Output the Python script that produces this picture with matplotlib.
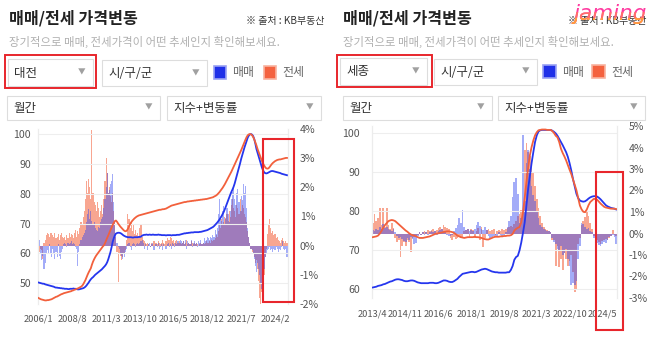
import matplotlib.pyplot as plt
import pandas as pd
from matplotlib.patches import Rectangle
from matplotlib.transforms import Bbox, TransformedBbox

plt.rcParams["font.family"] = ["Noto Sans CJK KR", "DejaVu Sans"]

W, H = 650, 346  # canvas size in pixels

# ---- 대전: monthly index (left axis) and monthly change % (right axis) ----
DJ_START = "2006-01"
DJ_TICKS = ["2006/1", "2008/8", "2011/3", "2013/10", "2016/5", "2018/12", "2021/7", "2024/2"]

dj_sale_idx = [
    50.2, 50.1, 50.0, 49.9, 49.8, 49.8, 49.6, 49.5, 49.4, 49.3, 49.2, 49.1,
    49.0, 48.9, 48.8, 48.6, 48.5, 48.5, 48.4, 48.4, 48.3, 48.3, 48.2, 48.2,
    48.1, 48.1, 48.1, 48.0, 48.0, 48.1, 48.1, 48.1, 48.2, 48.1, 48.1, 48.0,
    47.9, 47.9, 48.0, 48.1, 48.2, 48.3, 48.5, 48.8, 49.2, 49.7, 50.2, 50.8,
    51.3, 51.7, 52.0, 52.4, 52.8, 53.1, 53.4, 53.7, 54.0, 54.3, 54.6, 55.0,
    55.4, 55.8, 56.3, 57.0, 58.0, 59.2, 60.4, 62.0, 63.8, 65.0, 66.0, 66.6,
    66.8, 66.9, 66.9, 66.8, 66.6, 66.3, 66.0, 65.8, 65.6, 65.5, 65.4, 65.4,
    65.4, 65.4, 65.3, 65.3, 65.4, 65.4, 65.4, 65.4, 65.5, 65.5, 65.6, 65.9,
    66.1, 66.2, 66.2, 66.3, 66.2, 66.2, 66.3, 66.2, 66.2, 66.3, 66.2, 66.2,
    66.2, 66.2, 66.3, 66.2, 66.2, 66.1, 66.1, 66.1, 66.1, 66.0, 66.1, 66.1,
    66.1, 66.1, 66.0, 66.1, 66.1, 66.1, 66.1, 66.2, 66.2, 66.2, 66.3, 66.4,
    66.5, 66.6, 66.7, 66.7, 66.8, 66.8, 66.9, 66.9, 67.0, 67.0, 67.0, 67.1,
    67.1, 67.1, 67.1, 67.1, 67.2, 67.2, 67.3, 67.4, 67.5, 67.6, 67.7, 67.8,
    68.0, 68.2, 68.4, 68.6, 68.8, 69.1, 69.5, 69.9, 70.3, 70.8, 71.3, 71.9,
    72.5, 73.2, 73.9, 74.8, 75.8, 76.8, 77.8, 78.8, 79.7, 80.6, 81.4, 82.3,
    83.4, 84.8, 86.2, 87.5, 88.8, 90.2, 91.7, 93.0, 94.3, 95.5, 96.6, 97.7,
    98.8, 99.5, 99.9, 100.0, 99.8, 99.3, 98.3, 96.8, 95.0, 93.8, 92.5, 91.3,
    90.0, 88.8, 87.9, 87.2, 86.9, 86.8, 86.9, 87.1, 87.3, 87.5, 87.6, 87.6,
    87.5, 87.4, 87.3, 87.2, 87.1, 87.0, 86.9, 86.7, 86.6, 86.5, 86.4, 86.3,
    86.2,
]
dj_jeonse_idx = [
    45.0, 44.8, 44.6, 44.5, 44.4, 44.3, 44.2, 44.2, 44.3, 44.3, 44.4, 44.5,
    44.6, 44.8, 45.0, 45.2, 45.4, 45.5, 45.7, 45.9, 46.1, 46.3, 46.4, 46.6,
    46.7, 46.8, 46.9, 47.0, 47.1, 47.2, 47.3, 47.5, 47.6, 47.8, 47.9, 48.1,
    48.2, 48.4, 48.6, 48.8, 49.1, 49.6, 50.3, 51.0, 51.9, 52.8, 53.6, 54.3,
    55.0, 56.2, 57.2, 58.0, 58.7, 59.3, 59.8, 60.3, 60.8, 61.3, 61.8, 62.3,
    62.7, 63.4, 64.3, 65.2, 66.0, 66.9, 67.8, 68.6, 69.5, 70.2, 70.8, 71.0,
    70.6, 70.0, 69.5, 69.0, 68.6, 68.2, 67.8, 67.5, 67.4, 67.6, 68.2, 69.0,
    69.8, 70.4, 70.9, 71.3, 71.7, 72.0, 72.3, 72.5, 72.7, 72.8, 72.9, 73.0,
    73.1, 73.2, 73.3, 73.4, 73.5, 73.6, 73.7, 73.8, 73.9, 74.0, 74.1, 74.2,
    74.3, 74.4, 74.5, 74.6, 74.6, 74.7, 74.8, 74.8, 74.9, 75.0, 75.2, 75.4,
    75.6, 75.8, 76.0, 76.1, 76.2, 76.3, 76.4, 76.5, 76.6, 76.7, 76.8, 76.9,
    77.0, 77.1, 77.2, 77.2, 77.3, 77.4, 77.4, 77.5, 77.5, 77.6, 77.6, 77.7,
    77.7, 77.8, 77.8, 77.9, 77.9, 78.0, 78.0, 78.1, 78.1, 78.2, 78.2, 78.3,
    78.4, 78.5, 78.6, 78.7, 78.8, 79.0, 79.2, 79.4, 79.7, 80.1, 80.5, 81.0,
    81.5, 82.0, 82.6, 83.2, 83.9, 84.6, 85.3, 86.0, 86.7, 87.4, 88.2, 89.0,
    89.8, 90.6, 91.4, 92.2, 93.0, 93.8, 94.6, 95.5, 96.4, 97.3, 98.2, 99.0,
    99.6, 99.9, 100.0, 99.9, 99.6, 99.0, 98.2, 97.2, 96.2, 95.0, 94.0, 93.0,
    92.0, 91.0, 90.2, 89.5, 88.9, 88.5, 88.4, 88.5, 88.9, 89.4, 89.9, 90.3,
    90.6, 90.9, 91.1, 91.3, 91.4, 91.5, 91.5, 91.6, 91.7, 91.8, 91.9, 92.0,
    92.0,
]
dj_sale_chg = [
    0.45, 0.20, -0.30, -0.50, -0.35, -0.80, -0.60, -0.25, -0.15, -0.30, 0.05, -0.25,
    -0.40, -0.10, -0.30, -0.45, -0.20, -0.40, 0.05, -0.35, -0.45, -0.20, -0.10, 0.05,
    0.10, 0.05, -0.05, 0.10, 0.05, 0.10, 0.15, 0.05, 0.10, 0.05, -0.05, -0.10,
    -0.70, -0.20, 0.05, 0.20, 0.30, 0.35, 0.45, 0.55, 0.80, 1.10, 1.25, 0.90,
    1.20, 0.85, 0.75, 0.80, 0.60, 0.55, 0.50, 0.65, 0.60, 0.80, 0.90, 1.00,
    1.30, 1.60, 2.00, 2.50, 1.80, 1.90, 2.10, 2.20, 2.45, 1.50, 0.80, 0.45,
    0.10, -0.05, -0.10, -0.25, -0.35, -0.45, -0.30, -0.40, -0.20, -0.10, 0.05, 0.10,
    -0.05, -0.15, 0.05, 0.10, 0.05, -0.05, 0.05, 0.10, 0.05, 0.10, 0.15, 0.20,
    0.10, -0.10, 0.05, 0.00, -0.15, 0.05, 0.10, -0.05, 0.05, 0.10, -0.15, 0.05,
    0.05, -0.05, 0.10, -0.10, -0.05, 0.05, -0.15, 0.05, 0.00, -0.10, 0.05, 0.10,
    -0.05, 0.05, -0.10, 0.10, 0.05, -0.05, 0.10, 0.05, 0.15, 0.10, 0.20, 0.15,
    0.10, 0.15, 0.05, 0.20, -0.10, 0.15, 0.10, 0.05, 0.20, -0.05, 0.10, 0.15,
    0.05, 0.10, -0.05, 0.15, 0.10, 0.20, 0.05, 0.10, 0.25, 0.15, 0.20, 0.30,
    0.25, 0.20, 0.30, 0.25, 0.35, 0.30, 0.55, 0.40, 0.60, 1.10, 1.60, 0.90,
    0.85, 1.20, 1.35, 0.70, 0.95, 1.30, 1.10, 0.80, 1.20, 1.60, 1.85, 2.05,
    1.60, 1.40, 1.80, 1.95, 1.50, 1.20, 1.70, 1.55, 2.10, 1.80, 2.05, 1.30,
    0.60, 0.30, 0.10, -0.10, -0.15, -0.30, -0.45, -0.70, -0.90, -0.60, -0.80, -1.00,
    -1.30, -1.50, -1.60, -0.80, -0.40, -0.30, -0.15, -0.10, -0.05, -0.15, -0.10, -0.20,
    -0.10, -0.15, -0.05, -0.10, -0.20, -0.10, -0.15, -0.05, 0.15, -0.10, -0.15, -0.10,
    -0.40,
]
dj_jeonse_chg = [
    -0.15, -0.20, -0.10, -0.15, -0.45, 0.10, 0.20, 0.35, 0.45, 0.40, 0.30, 0.45,
    0.45, 0.35, 0.30, 0.45, 0.25, 0.30, 0.40, 0.20, 0.35, 0.45, 0.30, 0.25,
    0.30, 0.20, 0.35, 0.25, 0.45, 0.30, 0.40, 0.35, 0.25, 0.45, 0.55, 0.30,
    0.50, 0.40, 0.60, 0.80, 0.70, 1.00, 1.20, 1.60, 2.20, 1.80, 2.30, 2.00,
    1.60, 3.95, 1.80, 1.50, 1.40, 1.20, 1.50, 1.30, 1.00, 1.20, 1.40, 1.10,
    1.60, 2.20, 3.00, 2.50, 1.80, 2.00, 1.70, 1.50, 1.80, 1.20, 0.80, 0.30,
    -0.20, -1.25, -0.30, -0.35, -0.50, -0.40, -0.25, -0.30, -0.15, 0.20, 1.10, 0.90,
    0.60, 0.80, 0.50, 0.70, 0.40, 0.55, 0.35, 0.45, 0.30, 0.60, 0.70, 0.30,
    0.20, 0.15, 0.10, 0.05, 0.10, 0.05, 0.00, -0.05, 0.10, 0.05, 0.15, 0.10,
    0.10, 0.05, 0.15, 0.10, 0.05, 0.10, 0.20, 0.10, 0.05, 0.15, 0.25, 0.20,
    0.20, 0.30, 0.25, 0.15, 0.20, 0.10, 0.15, 0.20, 0.10, 0.15, 0.10, 0.05,
    0.10, 0.15, 0.05, 0.10, 0.20, 0.05, 0.10, 0.05, 0.15, 0.10, 0.05, 0.10,
    0.05, 0.10, 0.05, 0.00, 0.05, 0.10, 0.05, 0.10, 0.05, 0.10, 0.15, 0.10,
    0.10, 0.15, 0.10, 0.20, 0.15, 0.20, 0.25, 0.35, 0.30, 0.50, 0.70, 0.60,
    0.90, 0.70, 0.80, 1.00, 0.90, 1.10, 0.85, 1.20, 1.00, 1.40, 1.60, 1.30,
    1.20, 1.00, 1.40, 1.30, 1.10, 1.60, 1.20, 1.40, 1.30, 1.10, 1.00, 0.80,
    0.50, 0.30, 0.10, -0.10, -0.20, -0.30, -0.40, -0.60, -0.50, -0.80, -1.20, -1.80,
    -2.00, -1.60, -1.95, -1.00, -0.40, -0.10, 0.40, 0.70, 0.90, 0.60, 0.45, 0.50,
    0.35, 0.40, 0.25, 0.30, 0.20, 0.15, 0.10, 0.20, 0.25, 0.15, 0.10, 0.15,
    0.10,
]

# ---- 세종 (2013/4 ~ 2025/1) ----
SJ_START = "2013-04"
SJ_TICKS = ["2013/4", "2014/11", "2016/6", "2018/1", "2019/8", "2021/3", "2022/10", "2024/5"]

sj_sale_idx = [
    60.5, 60.6, 60.7, 60.9, 61.0, 61.1, 61.3, 61.4, 61.6,
    61.8, 62.0, 62.1, 62.3, 62.5, 62.6, 62.6, 62.5, 62.4, 62.2, 62.1, 62.1,
    62.2, 62.3, 62.3, 62.2, 62.0, 61.8, 61.7, 61.6, 61.6, 61.6, 61.6, 61.6,
    61.7, 61.7, 61.7, 61.6, 61.6, 61.7, 61.9, 62.1, 62.3, 62.3, 62.2, 62.0,
    61.9, 61.9, 62.1, 62.4, 62.7, 63.2, 63.6, 64.0, 64.1, 64.2, 64.3, 64.4,
    64.5, 64.5, 64.4, 64.5, 64.7, 64.9, 65.1, 65.2, 65.3, 65.2, 65.0, 64.8,
    64.6, 64.5, 64.4, 64.4, 64.3, 64.3, 64.3, 64.3, 64.3, 64.4, 64.4, 65.0,
    66.0, 67.6, 68.3, 68.6, 70.0, 72.0, 74.5, 77.2, 81.5, 85.8, 89.2, 92.4,
    95.2, 97.8, 99.5, 100.5, 100.8, 100.9, 100.9, 100.9, 100.9, 100.9, 100.9, 100.7,
    100.4, 100.0, 99.4, 98.6, 97.8, 97.0, 96.1, 95.2, 94.0, 92.4, 90.5, 88.3,
    86.4, 84.5, 83.4, 82.8, 82.6, 82.5, 82.6, 82.9, 83.3, 83.6, 83.8, 83.9,
    83.9, 83.8, 83.5, 83.1, 82.6, 82.1, 81.6, 81.3, 81.1, 80.9, 80.8, 80.7,
    80.5,
]
sj_jeonse_idx = [
    73.4, 73.5, 73.6, 73.8, 74.3, 75.0, 75.8, 76.5, 77.0,
    77.5, 77.7, 77.8, 77.7, 77.5, 77.1, 76.7, 76.3, 75.9, 75.5, 75.1, 74.8,
    74.4, 74.1, 73.9, 73.8, 73.6, 73.4, 73.2, 73.2, 73.2, 73.3, 73.4, 73.5,
    73.6, 73.8, 74.0, 74.2, 74.3, 74.4, 74.5, 74.6, 74.7, 74.8, 74.9, 74.9,
    74.8, 74.7, 74.5, 74.2, 73.8, 73.6, 73.4, 73.3, 73.2, 73.3, 73.4, 73.4,
    73.4, 73.4, 73.5, 73.4, 73.4, 73.3, 73.2, 73.0, 72.9, 72.8, 72.8, 73.0,
    73.2, 73.4, 73.5, 73.5, 73.5, 73.6, 73.6, 73.7, 73.7, 73.8, 73.8, 73.9,
    74.2, 75.1, 75.5, 75.8, 76.0, 77.2, 79.8, 83.5, 87.5, 91.2, 94.4, 96.5,
    98.2, 99.5, 100.3, 100.8, 100.9, 101.0, 101.0, 101.0, 100.9, 100.9, 100.9, 100.6,
    100.1, 99.4, 99.0, 97.8, 96.1, 95.0, 94.1, 93.1, 91.9, 90.7, 89.6, 88.2,
    86.8, 85.4, 83.5, 81.5, 80.5, 79.9, 79.8, 80.5, 81.6, 82.4, 82.8, 83.2,
    83.2, 83.0, 82.5, 82.0, 81.6, 81.2, 81.0, 80.9, 80.8, 80.7, 80.7, 80.7,
    80.6,
]
sj_sale_chg = [
    0.15, 0.10, 0.20, 0.15, 0.30, 0.20, 0.45, 0.25, 0.30,
    0.20, 0.15, 0.10, 0.20, 0.05, -0.10, -0.20, -0.15, -0.25, -0.35, -0.40, -0.20,
    -0.30, -0.15, -0.25, -0.50, -0.45, -0.10, 0.05, -0.05, 0.05, -0.05, 0.05, -0.05,
    0.05, 0.10, 0.05, 0.10, -0.05, 0.10, 0.15, 0.20, 0.10, 0.05, -0.05, -0.10,
    -0.10, -0.05, 0.10, 0.25, 0.40, 0.70, 0.50, 1.10, 0.30, 0.15, 0.20, 0.10,
    0.15, 0.10, 0.20, 0.40, 0.55, 0.35, 0.20, 0.15, 0.30, 0.15, -0.10, -0.20,
    -0.15, -0.10, -0.05, -0.10, 0.05, -0.05, -0.10, -0.05, 0.05, 0.30, 0.60, 0.80,
    1.70, 2.40, 2.60, 1.85, 0.50, 0.70, 4.60, 1.50, 3.30, 3.90, 3.00, 2.20,
    1.80, 1.50, 1.00, 0.70, 0.40, 0.30, 0.20, 0.15, 0.10, 0.10, 0.05, -0.20,
    -0.40, -0.50, -0.70, -0.80, -0.60, -1.00, -0.90, -0.70, -1.20, -1.50, -2.40, -2.30,
    -2.40, -2.20, -1.20, -0.60, 0.50, 0.45, 0.30, 0.20, 0.25, 0.10, 0.05, -0.20,
    -0.30, -0.45, -0.55, -0.60, -0.50, -0.40, -0.45, -0.30, -0.15, -0.10, -0.05, -0.15,
    -0.50,
]
sj_jeonse_chg = [
    0.50, 0.90, 0.60, 0.70, 1.20, 0.40, 1.20, 0.30, 1.20,
    0.40, 0.20, 0.50, 0.25, -0.20, -0.40, -0.30, -1.10, -0.60, -0.40, -0.60, -0.30,
    -0.40, -0.85, -0.20, -0.15, -0.10, -0.05, 0.05, -0.05, 0.05, 0.10, 0.05, 0.15,
    0.10, 0.15, 0.20, 0.10, 0.15, 0.25, 0.30, 0.20, 0.40, 0.30, 0.25, 0.20,
    -0.20, -0.30, -0.15, -0.25, -0.20, -0.10, -0.20, -0.15, 0.10, 0.15, 0.20, -0.20,
    0.20, 0.15, -0.20, 0.10, 0.25, -0.30, 0.30, -0.64, -0.20, 0.15, 0.20, 0.10,
    0.15, 0.20, -0.10, 0.10, 0.15, 0.10, 0.20, 0.15, 0.20, 0.25, 0.30, 0.35,
    0.30, 0.45, 0.60, 0.80, 0.90, 1.10, 1.00, 3.90, 4.20, 3.80, 3.60, 3.30,
    2.80, 2.20, 1.60, 1.20, 0.80, 0.50, 0.30, 0.20, 0.15, 0.10, 0.05, -0.30,
    -0.30, -1.50, -0.60, -1.55, -1.20, -1.70, -0.90, -1.20, -1.50, -1.30, -1.00, -1.80,
    -2.70, -2.60, -0.50, -0.20, 0.40, 0.60, 0.75, 1.00, 0.80, 0.50, 0.20, -0.10,
    -0.20, -0.30, -0.40, -0.50, -0.35, -0.30, -0.25, -0.30, -0.20, -0.10, 0.15, -0.05,
    -0.10,
]

SALE_LINE = "#2536ee"
JEONSE_LINE = "#f2603c"
SALE_BAR = "#3448f0"
JEONSE_BAR = "#f4704e"
RED = "#e8262c"
TXT = "#222222"
TICK = "#555555"

# header widgets in pixel coordinates, one layout per panel
LEFT_HEADER = dict(
    title=(9, 18.5), source=(324, 21, "right"), subtitle=(9, 41.5),
    region=(8, 59, 93, 86), red=(5, 55, 96, 88), district=(102, 60, 207, 86),
    sale_key=(214, 66, 226, 78.5, 232), jeonse_key=(264, 66, 276, 78.5, 282),
    period=(7, 96, 160, 120), mode=(167, 96, 321, 120),
)
RIGHT_HEADER = dict(
    title=(343, 18.5), source=(568, 21, "left"), subtitle=(343, 41.5),
    region=(340, 58, 427, 85), red=(337, 55, 432, 87), district=(434, 59, 537, 85),
    sale_key=(543, 65.5, 556, 78, 562), jeonse_key=(592, 65.5, 605, 78, 611),
    period=(343, 96, 492, 120), mode=(498, 96, 645, 120),
)

fig = plt.figure(figsize=(W / 100, H / 100), dpi=100)
fig.patch.set_facecolor("white")


def fx(x):
    return x / W


def fy(y):
    return 1 - y / H


def rect(x0, y0, x1, y1, **kw):
    fig.add_artist(Rectangle((fx(x0), fy(y1)), fx(x1 - x0), (y1 - y0) / H,
                             transform=fig.transFigure, **kw))


def text(x, y, s, **kw):
    kw.setdefault("va", "center")
    kw.setdefault("color", TXT)
    return fig.text(fx(x), fy(y), s, **kw)


def dropdown(box, label):
    x0, y0, x1, y1 = box
    rect(x0, y0, x1, y1, facecolor="white", edgecolor="#dddddd", lw=0.8)
    text(x0 + 6, (y0 + y1) / 2 + 0.5, label, fontsize=9, color="#333333")
    text(x1 - 11, (y0 + y1) / 2, "▼", fontsize=5.5, color="#a0a0a0", ha="center")


def key(spec, face, edge, label):
    x0, y0, x1, y1, tx = spec
    rect(x0, y0, x1, y1, facecolor=face, edgecolor=edge, lw=1.2)
    text(tx, (y0 + y1) / 2 + 0.5, label, fontsize=8.6, color="#666666")


def header(lay, region):
    text(*lay["title"], "매매/전세 가격변동", fontsize=11.6, fontweight="bold")
    sx, sy, sha = lay["source"]
    text(sx, sy, "※ 출처 : KB부동산", fontsize=7.2, color="#333333", ha=sha)
    text(*lay["subtitle"], "장기적으로 매매, 전세가격이 어떤 추세인지 확인해보세요.",
         fontsize=8.2, color="#b0b0b0")
    dropdown(lay["region"], region)
    rect(*lay["red"], facecolor="none", edgecolor=RED, lw=1.4)
    dropdown(lay["district"], "시/구/군")
    key(lay["sale_key"], "#1f30e8", "#9aa2f4", "매매")
    key(lay["jeonse_key"], "#f4623f", "#f8b3a0", "전세")
    dropdown(lay["period"], "월간")
    dropdown(lay["mode"], "지수+변동률")


def chart(box, start, ticks, sale_idx, jeonse_idx, sale_chg, jeonse_chg,
          idx_lim, chg_lim, left_pad, right_pad, x_pad):
    x0, y0, x1, y1 = box
    n = len(sale_idx)
    months = [f"{p.year}/{p.month}" for p in pd.period_range(start, periods=n, freq="M")]
    xs = list(range(n))

    # bars live on the base axes so the index lines are drawn above them
    ax = fig.add_axes([fx(x0), fy(y1), fx(x1 - x0), (y1 - y0) / H])
    tw = ax.twinx()

    ax.bar(xs, jeonse_chg, width=1.0, color=JEONSE_BAR, alpha=0.62, lw=0)
    ax.bar(xs, sale_chg, width=1.0, color=SALE_BAR, alpha=0.45, lw=0)
    ax.set_ylim(*chg_lim)
    pct = list(range(int(chg_lim[0]), int(chg_lim[1]) + 1))
    ax.set_yticks(pct)
    ax.set_yticklabels([f"{v}%" for v in pct])
    ax.yaxis.tick_right()
    ax.tick_params(axis="y", length=0, pad=right_pad, labelsize=7.6, labelcolor=TICK)

    ax.set_xlim(-0.5, n - 0.5)
    ax.set_xticks([months.index(t) for t in ticks])
    ax.set_xticklabels(ticks)
    ax.tick_params(axis="x", length=0, pad=x_pad, labelsize=6.7, labelcolor=TICK)

    tw.plot(xs, sale_idx, color=SALE_LINE, lw=1.3, zorder=3)
    tw.plot(xs, jeonse_idx, color=JEONSE_LINE, lw=1.3, zorder=3)
    tw.set_ylim(*idx_lim)
    lo = int(idx_lim[0] // 10 + 1) * 10
    tw.set_yticks(range(lo, 101, 10))
    tw.yaxis.tick_left()
    tw.tick_params(axis="y", length=0, pad=left_pad, labelsize=7.6, labelcolor=TICK)
    tw.grid(axis="y", color="#eeeeee", lw=0.8)

    for a in (ax, tw):
        a.patch.set_visible(False)
        for side in ("top", "bottom"):
            a.spines[side].set_visible(False)
        for side in ("left", "right"):
            a.spines[side].set_color("#ececec")
            a.spines[side].set_linewidth(0.8)


# left panel: 대전
header(LEFT_HEADER, "대전")
chart((38, 129, 287.5, 304), DJ_START, DJ_TICKS,
      dj_sale_idx, dj_jeonse_idx, dj_sale_chg, dj_jeonse_chg,
      idx_lim=(43.0, 101.7), chg_lim=(-2, 4), left_pad=5, right_pad=9, x_pad=7.5)
rect(263, 139, 294, 302, facecolor="none", edgecolor=RED, lw=1.5)

# right panel: 세종
header(RIGHT_HEADER, "세종")
chart((372, 126, 617, 298), SJ_START, SJ_TICKS,
      sj_sale_idx, sj_jeonse_idx, sj_sale_chg, sj_jeonse_chg,
      idx_lim=(57.8, 101.9), chg_lim=(-3, 5), left_pad=8.5, right_pad=8.5, x_pad=8)
rect(596, 172, 623, 330, facecolor="none", edgecolor=RED, lw=1.5)

# watermark, pink on top fading to orange below
for colour, band in (("#ff3aa0", (0, 40)), ("#ff6f6a", (12, 40)), ("#ffa23a", (18, 40))):
    t = fig.text(fx(573), fy(20), "jaming", fontsize=15.5, fontstyle="italic",
                 family="DejaVu Sans", color=colour, va="baseline", ha="left")
    clip = TransformedBbox(Bbox.from_extents(fx(540), fy(band[1]), fx(650), fy(band[0])),
                           fig.transFigure)
    t.set_clip_box(clip)
    t.set_clip_on(True)

fig.savefig("out.png", dpi=100, facecolor="white")
